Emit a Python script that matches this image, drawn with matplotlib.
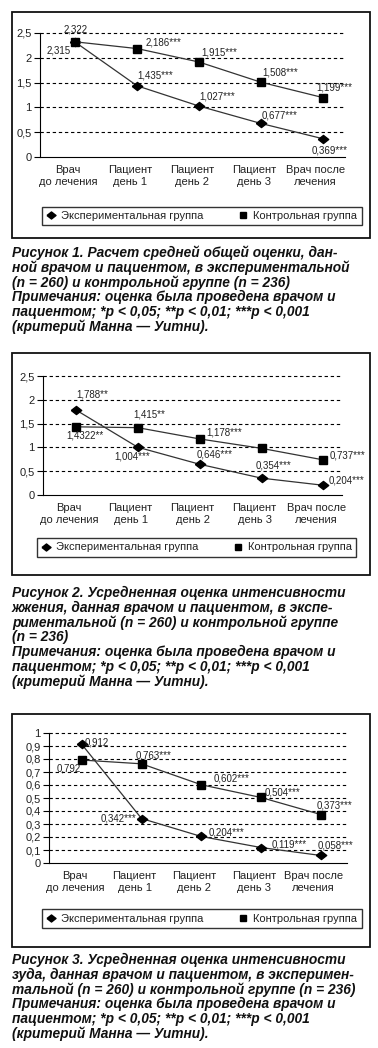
import matplotlib
matplotlib.use("Agg")
import matplotlib.pyplot as plt
import matplotlib.transforms as mtransforms
from matplotlib.lines import Line2D
from matplotlib.patches import Rectangle

plt.rcParams['font.family'] = ['Liberation Sans', 'DejaVu Sans']

W, H = 378, 1048

categories = ['Врач\nдо лечения', 'Пациент\nдень 1', 'Пациент\nдень 2',
              'Пациент\nдень 3', 'Врач после\nлечения']
series_names = ['Экспериментальная группа', 'Контрольная группа']

# Рисунок 1
exp1 = [2.315, 1.435, 1.027, 0.677, 0.369]
ctrl1 = [2.322, 2.186, 1.915, 1.508, 1.199]
exp1_text = ['2,315', '1,435***', '1,027***', '0,677***', '0,369***']
ctrl1_text = ['2,322', '2,186***', '1,915***', '1,508***', '1,199***']

# Рисунок 2
exp2 = [1.788, 1.004, 0.646, 0.354, 0.204]
ctrl2 = [1.4322, 1.415, 1.178, 0.98, 0.737]
exp2_text = ['1,788**', '1,004***', '0,646***', '0,354***', '0,204***']
ctrl2_text = ['1,4322**', '1,415**', '1,178***', '', '0,737***']

# Рисунок 3
exp3 = [0.912, 0.342, 0.204, 0.119, 0.058]
ctrl3 = [0.792, 0.763, 0.602, 0.504, 0.373]
exp3_text = ['0,912', '0,342***', '0,204***', '0,119***', '0,058***']
ctrl3_text = ['0,792', '0,763***', '0,602***', '0,504***', '0,373***']

yticks12 = [0, 0.5, 1, 1.5, 2, 2.5]
yticks12_text = ['0', '0,5', '1', '1,5', '2', '2,5']
yticks3 = [0, 0.1, 0.2, 0.3, 0.4, 0.5, 0.6, 0.7, 0.8, 0.9, 1.0]
yticks3_text = ['0', '0,1', '0,2', '0,3', '0,4', '0,5', '0,6', '0,7', '0,8', '0,9', '1']

caption1 = ['Рисунок 1. Расчет средней общей оценки, дан-',
            'ной врачом и пациентом, в экспериментальной',
            '(n = 260) и контрольной группе (n = 236)',
            'Примечания: оценка была проведена врачом и',
            'пациентом; *p < 0,05; **p < 0,01; ***p < 0,001',
            '(критерий Манна — Уитни).']
caption2 = ['Рисунок 2. Усредненная оценка интенсивности',
            'жжения, данная врачом и пациентом, в экспе-',
            'риментальной (n = 260) и контрольной группе',
            '(n = 236)',
            'Примечания: оценка была проведена врачом и',
            'пациентом; *p < 0,05; **p < 0,01; ***p < 0,001',
            '(критерий Манна — Уитни).']
caption3 = ['Рисунок 3. Усредненная оценка интенсивности',
            'зуда, данная врачом и пациентом, в эксперимен-',
            'тальной (n = 260) и контрольной группе (n = 236)',
            'Примечания: оценка была проведена врачом и',
            'пациентом; *p < 0,05; **p < 0,01; ***p < 0,001',
            '(критерий Манна — Уитни).']

# label offsets in image pixels (dx, dy down, alignment)
off_exp1 = [(-5, 8, 'right'), (0, -10, 'left'), (0, -10, 'left'), (1, -8, 'left'), (-11, 12, 'left')]
off_ctrl1 = [(0, -12, 'center'), (8, -6, 'left'), (2, -10, 'left'), (1, -10, 'left'), (-6, -10, 'left')]
off_exp2 = [(1, -15, 'left'), (-23, 9, 'left'), (-3, -10, 'left'), (-6, -13, 'left'), (5, -5, 'left')]
off_ctrl2 = [(-9, 9, 'left'), (-4, -13, 'left'), (7, -6, 'left'), (0, 0, 'left'), (6, -4, 'left')]
off_exp3 = [(3, -2, 'left'), (-5, 0, 'right'), (7, -4, 'left'), (11, -3, 'left'), (-3, -10, 'left')]
off_ctrl3 = [(-25, 8, 'left'), (-6, -8, 'left'), (12, -6, 'left'), (4, -5, 'left'), (-4, -9, 'left')]

diamond = [(-1, 0), (0, 0.78), (1, 0), (0, -0.78), (-1, 0)]

fig = plt.figure(figsize=(W / 100, H / 100), dpi=100)


def fx(x):
    return x / W


def fy(y):
    return 1 - y / H


def panel(box, ax_px, xlim, exp, ctrl, exp_txt, ctrl_txt, off_e, off_c,
          yt, yt_text, ymax, leg_box, caption, cap_y):
    # outer frame
    x0, y0, x1, y1 = box
    fig.patches.append(Rectangle((fx(x0), fy(y1)), fx(x1) - fx(x0), fy(y0) - fy(y1),
                                 transform=fig.transFigure, fill=False,
                                 edgecolor='#111111', linewidth=1.3))
    l, t, r, b = ax_px
    ax = fig.add_axes([fx(l), fy(b), fx(r) - fx(l), fy(t) - fy(b)])
    xs = list(range(len(categories)))
    ax.plot(xs, exp, color='#333333', linewidth=0.9, marker=diamond, markersize=7.5,
            markerfacecolor='black', markeredgecolor='black', zorder=3)
    ax.plot(xs, ctrl, color='#333333', linewidth=0.9, marker='s', markersize=5.6,
            markerfacecolor='black', markeredgecolor='black', zorder=3)
    for vals, txts, offs in ((exp, exp_txt, off_e), (ctrl, ctrl_txt, off_c)):
        for i, (v, s, (dx, dy, ha)) in enumerate(zip(vals, txts, offs)):
            if s:
                ax.annotate(s, (i, v), xytext=(dx, -dy), textcoords='offset pixels',
                            ha=ha, va='center', fontsize=7, color='#222222')
    ax.set_xlim(*xlim)
    ax.set_ylim(0, ymax)
    ax.set_yticks(yt)
    ax.set_yticklabels(yt_text, fontsize=8, color='#222222')
    ax.set_xticks(xs)
    ax.set_xticklabels(categories, fontsize=8, color='#222222', linespacing=1.15)
    ax.tick_params(axis='x', length=0, pad=6)
    ax.tick_params(axis='y', length=4, width=0.8, direction='out', pad=2)
    shift = mtransforms.ScaledTranslation(-7 / 100, 0, fig.dpi_scale_trans)
    for lab in ax.get_xticklabels():
        lab.set_transform(lab.get_transform() + shift)
    for v in yt[1:]:
        ax.axhline(v, color='black', linewidth=0.8, linestyle=(0, (3, 2.5)), zorder=1,
                   clip_on=False)
    for side in ('top', 'right'):
        ax.spines[side].set_visible(False)
    ax.spines['left'].set_linewidth(0.8)
    ax.spines['bottom'].set_linewidth(0.8)
    ax.patch.set_visible(False)

    # legend
    lx0, ly0, lx1, ly1 = leg_box
    handles = [Line2D([], [], linestyle='none', marker=diamond, markersize=6.5, color='black'),
               Line2D([], [], linestyle='none', marker='s', markersize=4.8, color='black')]
    leg = fig.legend(handles, series_names, loc='center',
                     bbox_to_anchor=(fx((lx0 + lx1) / 2), fy((ly0 + ly1) / 2)),
                     ncol=2, fontsize=8, frameon=True, fancybox=False,
                     handlelength=0.8, handletextpad=0.5, columnspacing=3.2,
                     borderpad=0.4, edgecolor='black')
    leg.get_frame().set_linewidth(1.0)
    for tx in leg.get_texts():
        tx.set_color('#222222')

    # caption
    for k, line in enumerate(caption):
        fig.text(fx(12), fy(cap_y + k * 14.8), line, ha='left', va='center',
                 fontsize=9.9, fontweight='bold', fontstyle='italic', color='#111111')


panel((12, 12, 370, 238), (40, 33, 345, 157), (-0.57, 4.36),
      exp1, ctrl1, exp1_text, ctrl1_text, off_exp1, off_ctrl1,
      yticks12, yticks12_text, 2.5, (42, 205, 362, 227), caption1, 253)

panel((12, 353, 370, 575), (43, 376, 342, 495), (-0.53, 4.3),
      exp2, ctrl2, exp2_text, ctrl2_text, off_exp2, off_ctrl2,
      yticks12, yticks12_text, 2.5, (45, 537, 348, 558), caption2, 593)

panel((12, 714, 370, 947), (49, 733, 347, 863), (-0.55, 4.44),
      exp3, ctrl3, exp3_text, ctrl3_text, off_exp3, off_ctrl3,
      yticks3, yticks3_text, 1.0, (50, 909, 354, 928), caption3, 960)

fig.savefig('out.png', dpi=100)
